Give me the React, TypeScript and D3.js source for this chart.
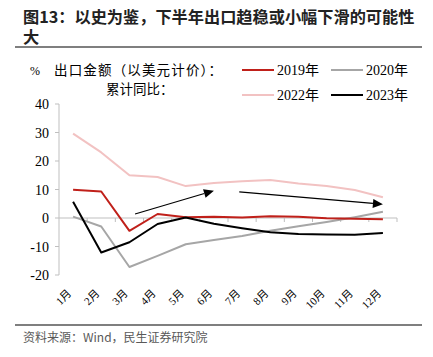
import React from "react";
import * as d3 from "d3";

const months = ["1月", "2月", "3月", "4月", "5月", "6月", "7月", "8月", "9月", "10月", "11月", "12月"];
const yTicks = [-20, -10, 0, 10, 20, 30, 40];
const s2019 = [9.9, 9.3, -4.5, 1.4, 0.3, 0.4, 0.2, 0.6, 0.4, -0.1, -0.3, -0.4];
const s2020 = [0.5, -3.0, -17.2, -13.3, -9.2, -7.7, -6.3, -4.5, -2.9, -1.4, 0.3, 2.2];
const s2022 = [29.6, 23.0, 15.0, 14.4, 11.2, 12.3, 12.9, 13.3, 12.1, 11.2, 9.8, 7.3];
const s2023 = [5.7, -12.1, -8.5, -2.1, 0.2, -2.0, -3.6, -5.0, -5.6, -5.8, -5.9, -5.3];
const seriesNames = ["2019年", "2020年", "2022年", "2023年"];
const seriesColors = ["#C0201A", "#A6A6A6", "#F2C2C2", "#000000"];
// arrows: [fromIndex, fromValue, toIndex, toValue]
const arrowUp = [2.2, 1.4, 5.0, 9.6];
const arrowDown = [5.9, 9.2, 11.0, 4.8];

export default function App() {
  const W = 433, H = 357;
  const left = 59, right = 397, top = 104, bottom = 275;
  const x = d3.scaleBand<string>().domain(months).range([left, right]);
  const y = d3.scaleLinear().domain([-20, 40]).range([bottom, top]);
  const cx = (i: number) => left + (i + 0.5) * x.bandwidth();
  const line = d3.line<number>().x((_, i) => cx(i)).y((d) => y(d));
  const all = [s2019, s2020, s2022, s2023];
  const drawOrder = [2, 1, 0, 3];
  const serif = "'Liberation Serif', 'Times New Roman', 'Noto Sans CJK SC', serif";
  const sans = "'Noto Sans CJK SC', 'Noto Sans', sans-serif";
  const arrow = (a: number[], key: string) => {
    const x1 = cx(a[0]), y1 = y(a[1]), x2 = cx(a[2]), y2 = y(a[3]);
    const ang = Math.atan2(y2 - y1, x2 - x1);
    const L = 10, Wd = 4.5;
    const bx = x2 - L * Math.cos(ang), by = y2 - L * Math.sin(ang);
    const p1 = [bx + Wd * Math.sin(ang), by - Wd * Math.cos(ang)];
    const p2 = [bx - Wd * Math.sin(ang), by + Wd * Math.cos(ang)];
    return (
      <g key={key}>
        <line x1={x1} y1={y1} x2={bx} y2={by} stroke="#000" strokeWidth={1.2} />
        <polygon points={`${x2},${y2} ${p1[0]},${p1[1]} ${p2[0]},${p2[1]}`} fill="#000" />
      </g>
    );
  };
  const legendPos = [
    [242, 70],
    [331, 70],
    [242, 95],
    [331, 95],
  ];
  return (
    <svg width={W} height={H} style={{ position: "absolute", left: 0, top: 0, background: "#fff" }}>
      <text x={23} y={23} fontFamily={sans} fontWeight="bold" fontSize={16.2} fill="#222">
        图13：以史为鉴，下半年出口趋稳或小幅下滑的可能性
      </text>
      <text x={23} y={43} fontFamily={sans} fontWeight="bold" fontSize={16.2} fill="#222">
        大
      </text>
      <line x1={15} x2={422} y1={47} y2={47} stroke="#555" strokeWidth={1.5} />

      <text x={30} y={75} fontFamily={serif} fontSize={12} fill="#000">%</text>
      <text x={54} y={75} fontFamily={sans} fontSize={13.5} fill="#000" textLength={168} lengthAdjust="spacing">出口金额（以美元计价）：</text>
      <text x={106} y={94} fontFamily={sans} fontSize={13.5} fill="#000">累计同比：</text>

      {seriesNames.map((n, i) => (
        <g key={n}>
          <line x1={legendPos[i][0]} x2={legendPos[i][0] + 32} y1={legendPos[i][1]} y2={legendPos[i][1]} stroke={seriesColors[i]} strokeWidth={2} />
          <text x={legendPos[i][0] + 35} y={legendPos[i][1] + 5} fontFamily={serif} fontSize={14} fill="#000">{n}</text>
        </g>
      ))}

      {/* y axis */}
      <line x1={left} x2={left} y1={top} y2={bottom} stroke="#BFBFBF" />
      {yTicks.map((t) => (
        <g key={t}>
          <line x1={left - 4} x2={left} y1={y(t)} y2={y(t)} stroke="#BFBFBF" />
          <text x={49} y={y(t) + 5} textAnchor="end" fontFamily={serif} fontSize={14} fill="#000">{t}</text>
        </g>
      ))}
      {/* x axis at 0 */}
      <line x1={left} x2={right} y1={y(0)} y2={y(0)} stroke="#BFBFBF" strokeWidth={1.2} />
      {months.map((m, i) => (
        <line key={m} x1={left + (i + 1) * x.bandwidth()} x2={left + (i + 1) * x.bandwidth()} y1={y(0)} y2={y(0) + 4} stroke="#BFBFBF" />
      ))}
      {months.map((m, i) => (
        <text key={m} transform={`translate(${cx(i) - 1},${294}) rotate(-45)`} textAnchor="end" fontFamily={serif} fontSize={11} fill="#000">{m}</text>
      ))}

      {drawOrder.map((k) => (
        <path key={k} d={line(all[k]) || ""} fill="none" stroke={seriesColors[k]} strokeWidth={2} strokeLinejoin="round" />
      ))}
      {arrow(arrowUp, "a1")}
      {arrow(arrowDown, "a2")}

      <line x1={15} x2={422} y1={325} y2={325} stroke="#555" strokeWidth={1.5} />
      <text x={23} y={342} fontFamily={sans} fontSize={12} fill="#595959">资料来源：Wind，民生证券研究院</text>
    </svg>
  );
}
